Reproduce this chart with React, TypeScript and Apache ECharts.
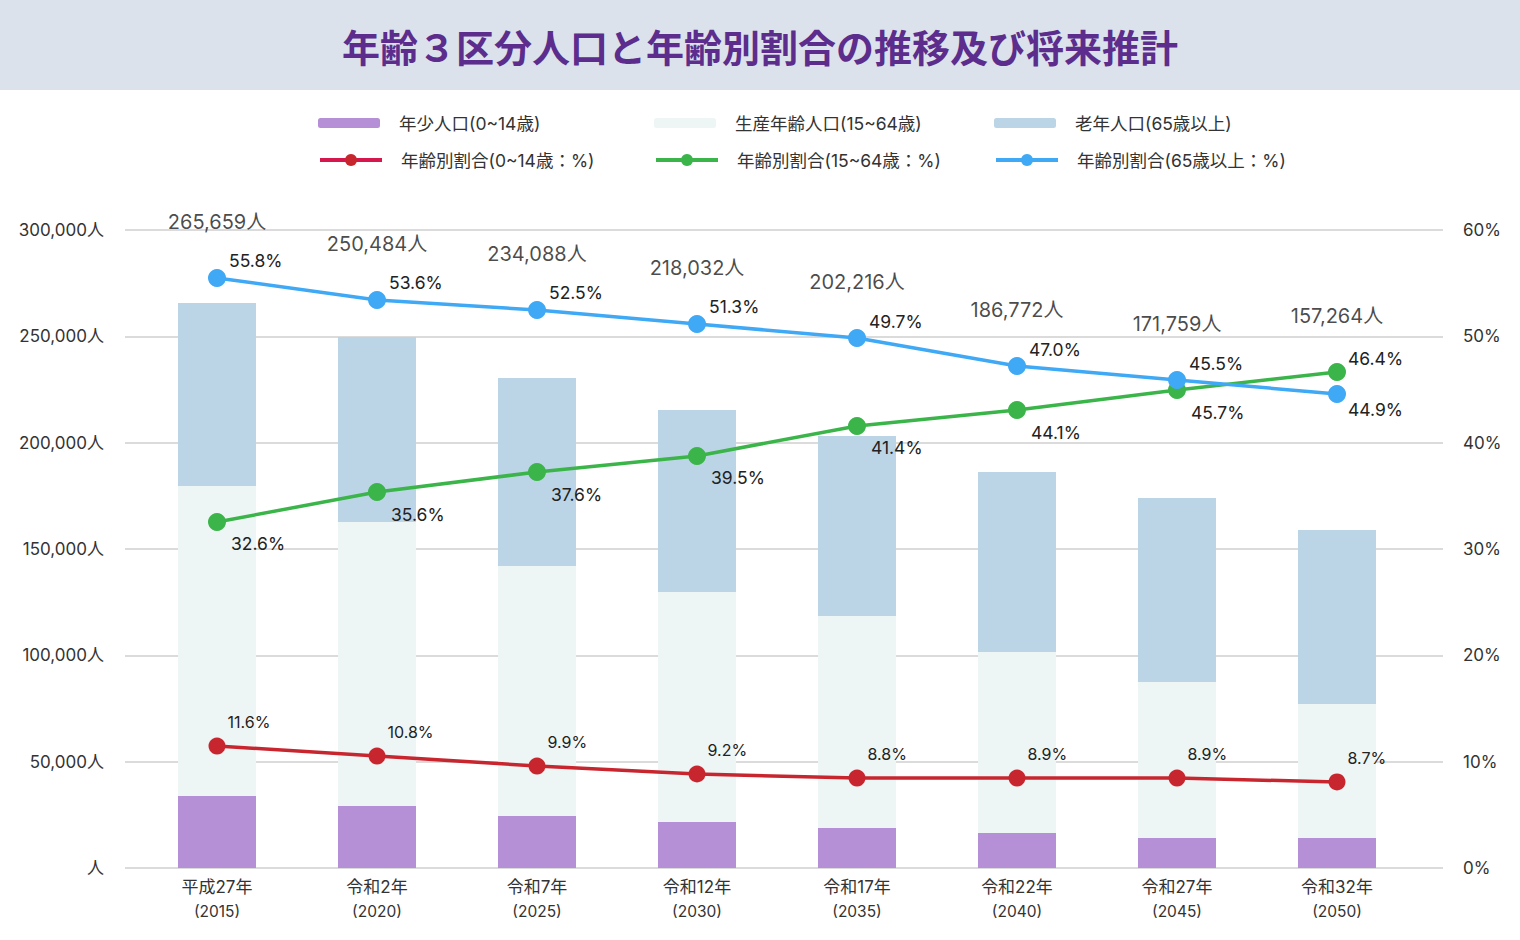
import React, { useEffect, useRef } from "react";
import * as echarts from "echarts";

const categories = ["平成27年", "令和2年", "令和7年", "令和12年", "令和17年", "令和22年", "令和27年", "令和32年"];
const years = ["2015", "2020", "2025", "2030", "2035", "2040", "2045", "2050"];

// 人口（人）
const youngPop = [33900, 29200, 24500, 21600, 18800, 16500, 14100, 14100];
const workingPop = [145700, 133500, 117500, 108200, 99700, 85100, 73400, 63000];
const elderlyPop = [86100, 87000, 88400, 85600, 84600, 84600, 86500, 81800];
const totalLabels = ["265,659人", "250,484人", "234,088人", "218,032人", "202,216人", "186,772人", "171,759人", "157,264人"];

// 割合（%）
const ratioYoung = [11.47, 10.53, 9.59, 8.84, 8.46, 8.46, 8.46, 8.09];
const ratioWorking = [32.54, 35.36, 37.24, 38.75, 41.57, 43.07, 44.95, 46.65];
const ratioElderly = [55.49, 53.42, 52.48, 51.16, 49.84, 47.21, 45.89, 44.58];
const ratioYoungLabels = ["11.6%", "10.8%", "9.9%", "9.2%", "8.8%", "8.9%", "8.9%", "8.7%"];
const ratioWorkingLabels = ["32.6%", "35.6%", "37.6%", "39.5%", "41.4%", "44.1%", "45.7%", "46.4%"];
const ratioElderlyLabels = ["55.8%", "53.6%", "52.5%", "51.3%", "49.7%", "47.0%", "45.5%", "44.9%"];

const leftTicks = [0, 50000, 100000, 150000, 200000, 250000, 300000];
const rightTicks = [0, 10, 20, 30, 40, 50, 60];

const FONT = "Inter, 'Noto Sans CJK JP', sans-serif";

export default function App() {
  const ref = useRef<HTMLDivElement>(null);
  useEffect(() => {
    if (!ref.current) return;
    const chart = echarts.init(ref.current, undefined, { renderer: "svg" });
    const lastIdx = categories.length - 1;
    const pctLabel = (size: number) => ({ color: "#222", fontSize: size, fontFamily: FONT });
    const legendText = { fontSize: 17.5, lineHeight: 22, color: "#333", padding: [0, 0, 0, 14], fontFamily: FONT };
    const mkLegend = (left: number, top: number, h: number, item: any) => ({
      left, top, itemWidth: 62, itemHeight: h, textStyle: legendText, data: [item],
    });

    const option: any = {
      animation: false,
      backgroundColor: "#fff",
      textStyle: { fontFamily: FONT },
      title: {
        text: "年齢３区分人口と年齢別割合の推移及び将来推計",
        left: "center",
        top: 24,
        textStyle: { color: "#5c2d8c", fontSize: 38, fontWeight: "bold", fontFamily: FONT },
      },
      graphic: [
        { type: "rect", left: 0, top: 0, z: -10, shape: { width: 1520, height: 90 }, style: { fill: "#dbe2eb" } },
      ],
      legend: [
        mkLegend(313, 107, 10, { name: "年少人口(0~14歳)" }),
        mkLegend(313, 144, 15, {
          name: "年齢別割合(0~14歳：%)",
          lineStyle: { color: "#d6174e", width: 4 },
          itemStyle: { color: "#c8262f" },
        }),
        mkLegend(649, 107, 10, { name: "生産年齢人口(15~64歳)" }),
        mkLegend(649, 144, 15, { name: "年齢別割合(15~64歳：%)", lineStyle: { width: 4 } }),
        mkLegend(989, 107, 10, { name: "老年人口(65歳以上)" }),
        mkLegend(989, 144, 15, { name: "年齢別割合(65歳以上：%)", lineStyle: { width: 4 } }),
      ],
      grid: [
        { left: 125, right: 77, top: 230, bottom: 72 },
        { left: 137, right: 103, top: 230, bottom: 72 },
      ],
      xAxis: [
        { type: "category", gridIndex: 0, data: categories, show: false },
        {
          type: "category",
          gridIndex: 1,
          data: categories,
          axisLine: { show: false },
          axisTick: { show: false },
          axisLabel: {
            margin: 6,
            formatter: (v: string, i: number) => `{a|${v}}\n{b|(${years[i]})}`,
            rich: {
              a: { fontSize: 17, color: "#333", lineHeight: 25, fontFamily: FONT },
              b: { fontSize: 15.5, color: "#333", lineHeight: 25, fontFamily: FONT },
            },
          },
        },
      ],
      yAxis: [
        {
          type: "value", gridIndex: 0, position: "left",
          min: leftTicks[0], max: leftTicks[leftTicks.length - 1], interval: leftTicks[1] - leftTicks[0],
          axisLine: { show: false }, axisTick: { show: false },
          splitLine: { lineStyle: { color: "#cfcfcf", width: 1.5 } },
          axisLabel: {
            margin: 21, fontSize: 17, color: "#333", fontFamily: FONT,
            formatter: (v: number) => (v === 0 ? "人" : v.toLocaleString("en-US") + "人"),
          },
        },
        {
          type: "value", gridIndex: 0, position: "right",
          min: rightTicks[0], max: rightTicks[rightTicks.length - 1], interval: rightTicks[1] - rightTicks[0],
          axisLine: { show: false }, axisTick: { show: false }, splitLine: { show: false },
          axisLabel: { margin: 20, fontSize: 17, color: "#333", fontFamily: FONT, formatter: (v: number) => v + "%" },
        },
        { type: "value", gridIndex: 1, min: leftTicks[0], max: leftTicks[leftTicks.length - 1], show: false },
        { type: "value", gridIndex: 1, min: rightTicks[0], max: rightTicks[rightTicks.length - 1], show: false },
      ],
      series: [
        {
          name: "年少人口(0~14歳)", type: "bar", stack: "pop", xAxisIndex: 1, yAxisIndex: 2,
          barWidth: 78, data: youngPop, itemStyle: { color: "#b690d6" },
        },
        {
          name: "生産年齢人口(15~64歳)", type: "bar", stack: "pop", xAxisIndex: 1, yAxisIndex: 2,
          barWidth: 78, data: workingPop, itemStyle: { color: "#eef5f5" },
        },
        {
          name: "老年人口(65歳以上)", type: "bar", stack: "pop", xAxisIndex: 1, yAxisIndex: 2,
          barWidth: 78, data: elderlyPop, itemStyle: { color: "#bcd5e6" },
        },
        {
          name: "年齢別割合(0~14歳：%)", type: "line", xAxisIndex: 1, yAxisIndex: 3, z: 5,
          data: ratioYoung, symbol: "circle", symbolSize: 17,
          lineStyle: { color: "#c8262f", width: 3.5 }, itemStyle: { color: "#c8262f" },
          label: {
            show: true, position: "right", distance: 2, offset: [0, -24],
            formatter: (p: any) => ratioYoungLabels[p.dataIndex], ...pctLabel(16),
          },
        },
        {
          name: "年齢別割合(15~64歳：%)", type: "line", xAxisIndex: 1, yAxisIndex: 3, z: 5,
          data: ratioWorking.map((v, i) =>
            i === lastIdx ? { value: v, label: { offset: [0, -13], distance: 2 } } : v
          ),
          symbol: "circle", symbolSize: 18,
          lineStyle: { color: "#3bb54a", width: 3.5 }, itemStyle: { color: "#3bb54a" },
          label: {
            show: true, position: "right", distance: 5, offset: [0, 22],
            formatter: (p: any) => ratioWorkingLabels[p.dataIndex], ...pctLabel(17.5),
          },
        },
        {
          name: "年齢別割合(65歳以上：%)", type: "line", xAxisIndex: 1, yAxisIndex: 3, z: 5,
          data: ratioElderly.map((v, i) =>
            i === lastIdx ? { value: v, label: { offset: [0, 16], distance: 2 } } : v
          ),
          symbol: "circle", symbolSize: 18,
          lineStyle: { color: "#3fa9f5", width: 3.5 }, itemStyle: { color: "#3fa9f5" },
          label: {
            show: true, position: "right", distance: 3, offset: [0, -17],
            formatter: (p: any) => ratioElderlyLabels[p.dataIndex], ...pctLabel(17.5),
          },
        },
        {
          name: "総人口", type: "scatter", xAxisIndex: 1, yAxisIndex: 3, z: 6,
          data: ratioElderly.map((v, i) => Math.max(v, ratioWorking[i])),
          symbolSize: 0, silent: true,
          label: {
            show: true, position: "top", distance: 46,
            formatter: (p: any) => totalLabels[p.dataIndex],
            color: "#1a1a1a", fontSize: 20, fontFamily: FONT,
          },
        },
      ],
    };
    chart.setOption(option);
    return () => chart.dispose();
  }, []);
  return <div ref={ref} style={{ position: "fixed", left: 0, top: 0, width: 1520, height: 940 }} />;
}
